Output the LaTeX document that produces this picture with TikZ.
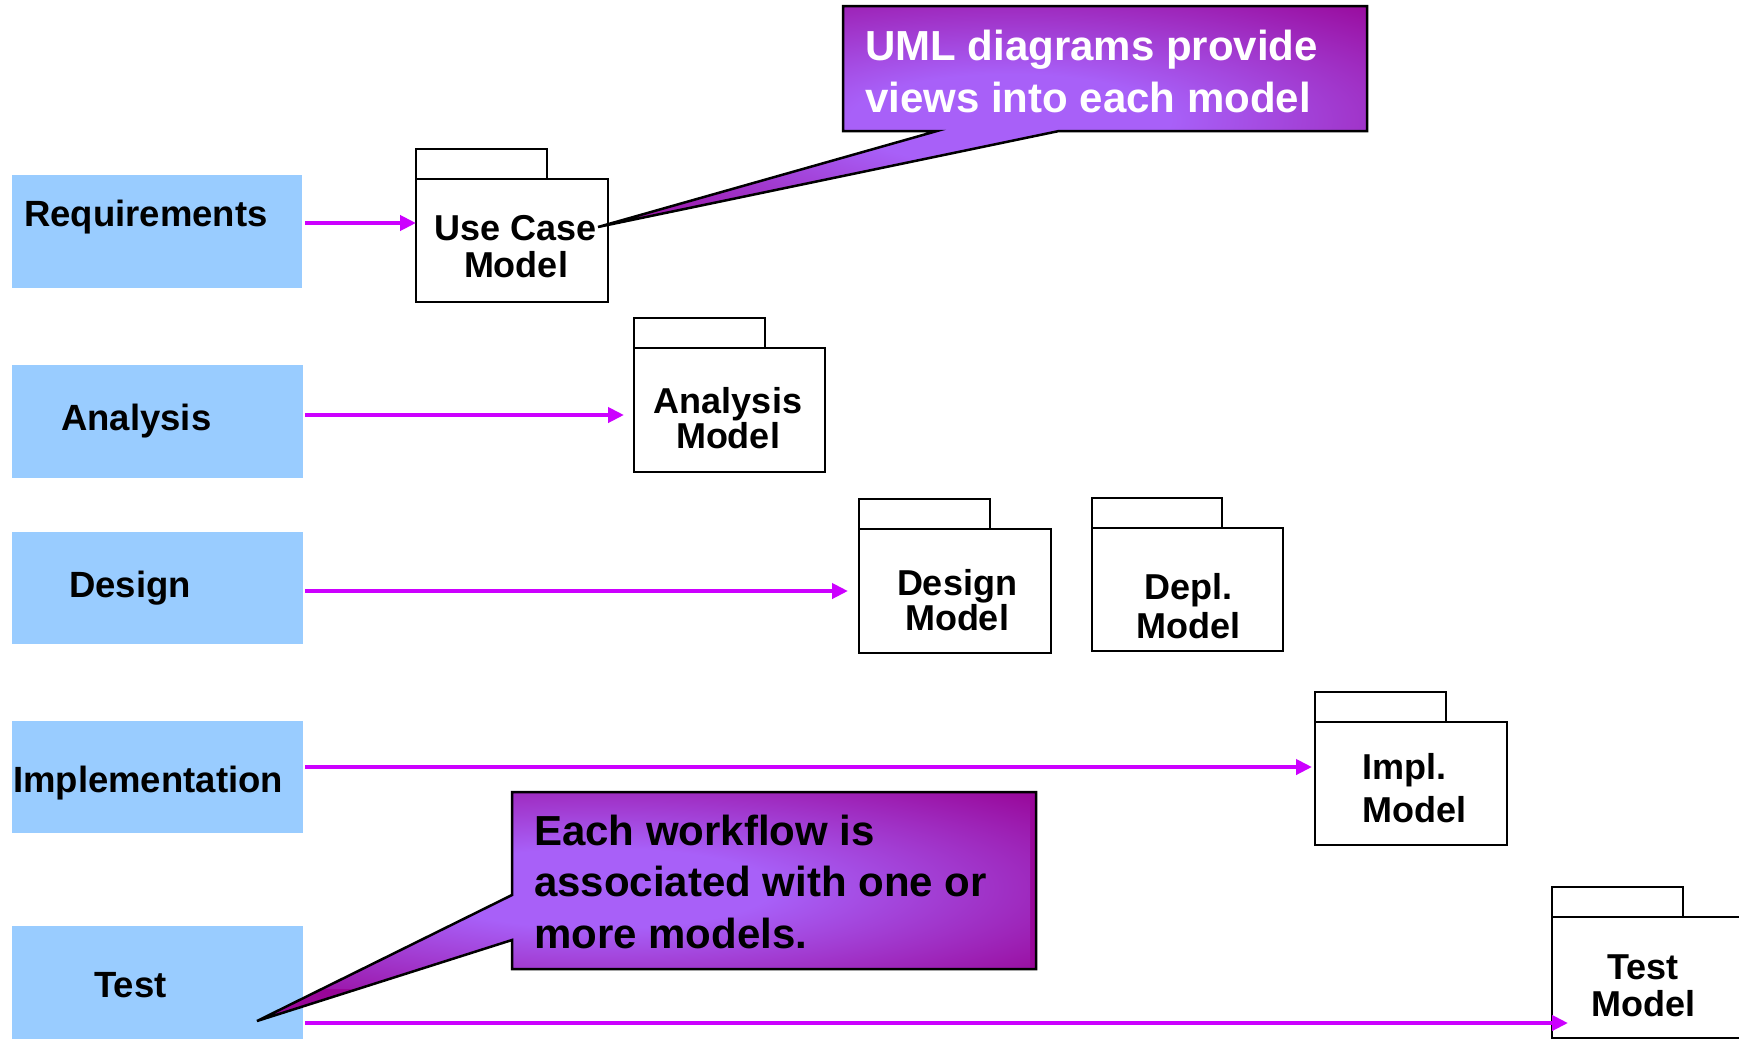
\documentclass[tikz,border=0pt]{standalone}
\usepackage{fontspec}
\setmainfont{Liberation Sans}
\usetikzlibrary{arrows.meta}
\definecolor{wfblue}{HTML}{99CCFF}
\definecolor{flowmag}{HTML}{CC00FF}
\definecolor{calLight}{RGB}{168,96,248}
\definecolor{calDark}{RGB}{152,6,152}
\pgfdeclareradialshading{calloutshade}{\pgfpoint{0bp}{0bp}}{color(0bp)=(calLight); color(10bp)=(calLight); color(35bp)=(calDark); color(72bp)=(calDark)}
\newcommand\umlcalloutpath{(843,6) -- (1367,6) -- (1367,131) -- (1059,131) -- (598,227) -- (937,131) -- (843,131) -- cycle}
\newcommand\eachcalloutpath{(512,792) -- (1036,792) -- (1036,969) -- (512,969) -- (512,940) -- (257,1021) -- (512,895) -- cycle}
\begin{document}
\begin{tikzpicture}[x=1pt,y=-1pt,
  wfbox/.style={rectangle, fill=wfblue, draw=none, inner sep=0pt, outer sep=0pt, anchor=north west},
  wflabel/.style={anchor=base west, inner sep=0pt, font=\fontsize{36.5}{40}\selectfont\bfseries},
  pkgbody/.style={rectangle, draw=black, line width=2pt, fill=white, inner sep=0pt, outer sep=0pt, anchor=north west},
  pkgtab/.style={rectangle, draw=black, line width=2pt, fill=white, inner sep=0pt, outer sep=0pt, anchor=south west, minimum width=131pt, minimum height=30pt},
  pkglabel/.style={anchor=base, align=center, inner sep=0pt},
  flowarrow/.style={draw=flowmag, line width=4.5pt, -{Triangle[length=16pt,width=15pt]}},
  calloutline/.style={draw=black, line width=2.5pt, line join=miter},
  calltext/.style={anchor=base west, align=left, inner sep=0pt}
]
\useasboundingbox (0,0) rectangle (1739,1039);
\fill[white] (0,0) rectangle (1739,1039);

% workflow boxes
\node[wfbox, minimum width=290pt, minimum height=113pt] (req) at (12,175) {};
\node[wfbox, minimum width=291pt, minimum height=113pt] (ana) at (12,365) {};
\node[wfbox, minimum width=291pt, minimum height=112pt] (des) at (12,532) {};
\node[wfbox, minimum width=291pt, minimum height=112pt] (imp) at (12,721) {};
\node[wfbox, minimum width=291pt, minimum height=113pt] (tst) at (12,926) {};

\node[wflabel] (reqlbl) at (24,226) {Requirements};
\node[wflabel] (analbl) at (61,430) {Analysis};
\node[wflabel] (deslbl) at (69,597) {Design};
\node[wflabel] (implbl) at (13,792) {Implementation};
\node[wflabel] (tstlbl) at (94,997) {Test};

% packages (label nodes anchored at the baseline of their last line)
\node[pkgbody, minimum width=192pt, minimum height=123pt] (uc) at (416,179) {};
\node[pkgtab] (uctab) at (uc.north west) {};
\node[pkglabel, font=\fontsize{36}{37}\selectfont\bfseries] (uclbl) at (516,277) {Use Case\\Model};

\node[pkgbody, minimum width=191pt, minimum height=124pt] (am) at (634,348) {};
\node[pkgtab] (amtab) at (am.north west) {};
\node[pkglabel, font=\fontsize{36}{35}\selectfont\bfseries] (amlbl) at (728,448) {Analysis\\Model};

\node[pkgbody, minimum width=192pt, minimum height=124pt] (dm) at (859,529) {};
\node[pkgtab] (dmtab) at (dm.north west) {};
\node[pkglabel, font=\fontsize{36}{33}\selectfont\bfseries] (dmlbl) at (957,630) {Design\\Model};

\node[pkgbody, minimum width=191pt, minimum height=123pt] (dp) at (1092,528) {};
\node[pkgtab, minimum width=130pt] (dptab) at (dp.north west) {};
\node[pkglabel, font=\fontsize{36}{39}\selectfont\bfseries] (dplbl) at (1188,638) {Depl.\\Model};

\node[pkgbody, minimum width=192pt, minimum height=123pt] (im) at (1315,722) {};
\node[pkgtab] (imtab) at (im.north west) {};
\node[pkglabel, anchor=base west, align=left, font=\fontsize{36}{43}\selectfont\bfseries] (imlbl) at (1362,822) {Impl.\\Model};

\begin{scope}
\clip (0,0) rectangle (1739,1039);
\node[pkgbody, minimum width=300pt, minimum height=121pt] (tm) at (1552,917) {};
\node[pkgtab] (tmtab) at (tm.north west) {};
\end{scope}
\node[pkglabel, font=\fontsize{36}{37}\selectfont\bfseries] (tmlbl) at (1643,1016) {Test\\Model};

% flow arrows
\coordinate (reqEnd) at (416,223);
\coordinate (anaEnd) at (624,415);
\coordinate (desEnd) at (848,591);
\coordinate (impEnd) at (1312,767);
\coordinate (tstEnd) at (1568,1023);
\draw[flowarrow] ([xshift=3pt]req.east |- reqEnd) -- (reqEnd);
\draw[flowarrow] ([xshift=2pt]ana.east |- anaEnd) -- (anaEnd);
\draw[flowarrow] ([xshift=2pt]des.east |- desEnd) -- (desEnd);
\draw[flowarrow] ([xshift=2pt]imp.east |- impEnd) -- (impEnd);
\draw[flowarrow] ([xshift=2pt]tst.east |- tstEnd) -- (tstEnd);

% callout: UML diagrams
\fill[calDark] \umlcalloutpath;
\begin{scope}
  \clip \umlcalloutpath;
  \shade[shading=calloutshade, transform canvas={shift={(1010,120)}, xscale=8, yscale=2.3}] (-50,-50) rectangle (50,50);
\end{scope}
\draw[calloutline] \umlcalloutpath;
\node[calltext, text=white, font=\fontsize{42}{52}\selectfont\bfseries] (umltxt) at (865,112) {UML diagrams provide\\views into each model};

% callout: each workflow
\fill[calDark] \eachcalloutpath;
\begin{scope}
  \clip \eachcalloutpath;
  \shade[shading=calloutshade, transform canvas={shift={(600,888)}, xscale=8.6, yscale=2.0}] (-50,-50) rectangle (50,50);
\end{scope}
\draw[calloutline] \eachcalloutpath;
\node[calltext, text=black, font=\fontsize{42}{51.5}\selectfont\bfseries] (eachtxt) at (534,948) {Each workflow is\\associated with one or\\more models.};
\end{tikzpicture}
\end{document}
